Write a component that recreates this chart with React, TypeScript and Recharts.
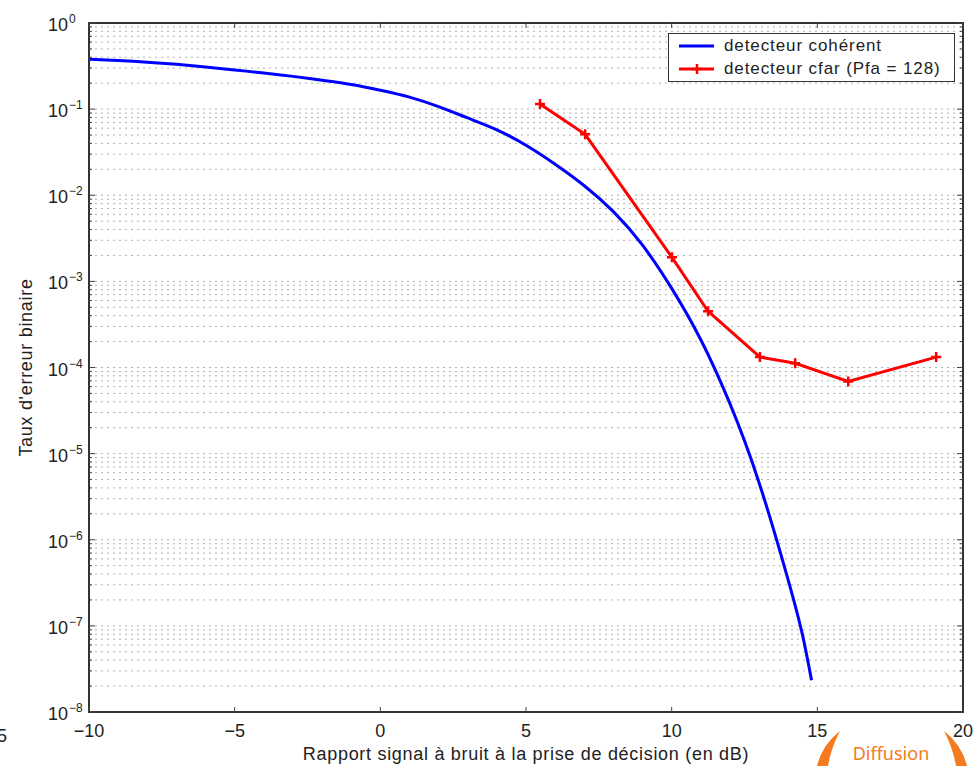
import { LineChart, Line, XAxis, YAxis, CartesianGrid, Legend, ReferenceArea } from "recharts";

// courbe théorique, détecteur cohérent
const snrCoherent = [-10, -9, -8, -7, -6, -5, -4, -3, -2, -1, 0, 1, 2, 3, 4, 5, 6, 7, 8, 9, 10, 11, 12, 13, 14, 14.5, 14.8];
const berCoherent = [
  0.38, 0.367, 0.351, 0.331, 0.309, 0.285, 0.263, 0.24, 0.216, 0.193, 0.166, 0.138, 0.107, 0.079, 0.0575, 0.038,
  0.0229, 0.0129, 0.00646, 0.00263, 8.3e-4, 2.1e-4, 3.8e-5, 4.6e-6, 3.4e-7, 7.6e-8, 2.34e-8,
];

// mesures, détecteur cfar
const snrCfar = [5.48, 7.03, 10.01, 11.25, 13.03, 14.24, 16.06, 19.08];
const berCfar = [0.115, 0.051, 1.9e-3, 4.5e-4, 1.32e-4, 1.12e-4, 6.9e-5, 1.32e-4];

const xTicks = [-10, -5, 0, 5, 10, 15, 20];
const xTickLabels = ["\u221210", "\u22125", "0", "5", "10", "15", "20"];
const decades = [1, 1e-1, 1e-2, 1e-3, 1e-4, 1e-5, 1e-6, 1e-7, 1e-8];
const decadeLabels = ["0", "\u22121", "\u22122", "\u22123", "\u22124", "\u22125", "\u22126", "\u22127", "\u22128"];
const minorSteps = [2, 3, 4, 5, 6, 7, 8, 9];

const yTicks: number[] = [...decades];
decades.slice(1).forEach((d) => minorSteps.forEach((m) => yTicks.push(d * m)));
yTicks.sort((a, b) => a - b);

const coherentData = snrCoherent.map((x, i) => ({ x, y: berCoherent[i] }));
const cfarData = snrCfar.map((x, i) => ({ x, y: berCfar[i] }));

const W = 980;
const H = 766;
const TOP = 23;
const BOTTOM = 712;
const LEFT = 89;
const RIGHT = 963;
const FONT = "'Liberation Sans', Arial, Helvetica, sans-serif";
const INK = "#222";

function XTick({ x, payload }: any) {
  const i = xTicks.indexOf(payload.value);
  return (
    <g>
      <line x1={x} x2={x} y1={BOTTOM} y2={BOTTOM - 5} stroke="#444" />
      <line x1={x} x2={x} y1={TOP} y2={TOP + 5} stroke="#444" />
      <text x={x} y={BOTTOM + 25} textAnchor="middle" fontFamily={FONT} fontSize={18} fill={INK}>
        {xTickLabels[i]}
      </text>
    </g>
  );
}

function YTick({ y, payload }: any) {
  const i = decades.indexOf(payload.value);
  const len = i >= 0 ? 6 : 3;
  return (
    <g>
      <line x1={LEFT} x2={LEFT + len} y1={y} y2={y} stroke="#444" />
      <line x1={RIGHT} x2={RIGHT - len} y1={y} y2={y} stroke="#444" />
      {i >= 0 && (
        <g fontFamily={FONT} fill={INK}>
          <text x={68} y={y + 8} textAnchor="end" fontSize={18}>
            10
          </text>
          <text x={69} y={y} fontSize={12}>
            {decadeLabels[i]}
          </text>
        </g>
      )}
    </g>
  );
}

function PlusDot({ cx, cy }: any) {
  if (cx == null || cy == null) return null;
  return <path d={`M${cx - 5},${cy}H${cx + 5}M${cx},${cy - 5}V${cy + 5}`} stroke="#ff0000" strokeWidth={2.5} />;
}

function LegendBox() {
  const row = (top: number, color: string, label: string, marker: boolean) => (
    <div style={{ position: "absolute", left: 0, top, height: 22, width: "100%" }}>
      <svg width={50} height={22} style={{ position: "absolute", left: 0, top: 0 }}>
        <line x1={10} x2={45} y1={11} y2={11} stroke={color} strokeWidth={3} />
        {marker && <path d="M23,11H33M28,6V16" stroke={color} strokeWidth={2.5} />}
      </svg>
      <span style={{ position: "absolute", left: 55, top: 1, whiteSpace: "nowrap" }}>{label}</span>
    </div>
  );
  return (
    <div
      style={{
        position: "relative",
        width: 287,
        height: 49,
        boxSizing: "border-box",
        border: "1px solid #333",
        background: "#fff",
        fontFamily: FONT,
        fontSize: 17,
        letterSpacing: 0.9,
        color: INK,
        lineHeight: "20px",
      }}
    >
      {row(1, "#0000ff", "detecteur cohérent", false)}
      {row(24, "#ff0000", "detecteur cfar (Pfa = 128)", true)}
    </div>
  );
}

export default function App() {
  return (
    <div style={{ position: "absolute", left: 0, top: 0, width: W, height: H, background: "#fff" }}>
      <LineChart width={W} height={H} margin={{ top: TOP, right: W - RIGHT, left: 0, bottom: 0 }}>
        <CartesianGrid vertical={false} stroke="#b0b0b0" strokeDasharray="2 4" />
        <XAxis
          type="number"
          dataKey="x"
          domain={[-10, 20]}
          ticks={xTicks}
          height={H - BOTTOM}
          tick={<XTick />}
          tickLine={false}
          axisLine={{ stroke: "#333", strokeWidth: 2 }}
          label={{
            value: "Rapport signal à bruit à la prise de décision (en dB)",
            position: "insideBottom",
            offset: 6,
            style: { fontFamily: FONT, fontSize: 18, letterSpacing: 0.7, fill: INK },
          }}
        />
        <YAxis
          type="number"
          scale="log"
          domain={[1e-8, 1]}
          ticks={yTicks}
          interval={0}
          allowDataOverflow
          width={LEFT}
          tick={<YTick />}
          tickLine={false}
          axisLine={{ stroke: "#333", strokeWidth: 2 }}
          label={{
            value: "Taux d'erreur binaire",
            angle: -90,
            position: "insideLeft",
            offset: 26,
            style: { fontFamily: FONT, fontSize: 18, letterSpacing: 0.7, fill: INK, textAnchor: "middle" },
          }}
        />
        <ReferenceArea x1={-10} x2={20} y1={1e-8} y2={1} fill="none" stroke="#333" strokeWidth={2} />
        <Line
          data={coherentData}
          dataKey="y"
          name="detecteur cohérent"
          type="natural"
          stroke="#0000ff"
          strokeWidth={3}
          dot={false}
          isAnimationActive={false}
        />
        <Line
          data={cfarData}
          dataKey="y"
          name="detecteur cfar (Pfa = 128)"
          type="linear"
          stroke="#ff0000"
          strokeWidth={3}
          dot={<PlusDot />}
          isAnimationActive={false}
        />
        <Legend
          layout="vertical"
          align="center"
          verticalAlign="middle"
          content={<LegendBox />}
          wrapperStyle={{ left: 668, top: 33, width: 287, height: 49 }}
        />
      </LineChart>
      <svg width={W} height={H} style={{ position: "absolute", left: 0, top: 0, pointerEvents: "none" }}>
        <text x={-3} y={742} fontFamily={FONT} fontSize={18} fill={INK}>
          5
        </text>
        <path d="M840,731 Q822,745 817,766 L828,766 Q831,748 840,731 Z" fill="#f47b20" />
        <path d="M944,731 Q962,745 967,766 L956,766 Q953,748 944,731 Z" fill="#f47b20" />
        <text x={891} y={760} textAnchor="middle" fontFamily="'Noto Sans', 'Open Sans', sans-serif" fontSize={18} fill="#f47b20">
          Diffusion
        </text>
      </svg>
    </div>
  );
}
